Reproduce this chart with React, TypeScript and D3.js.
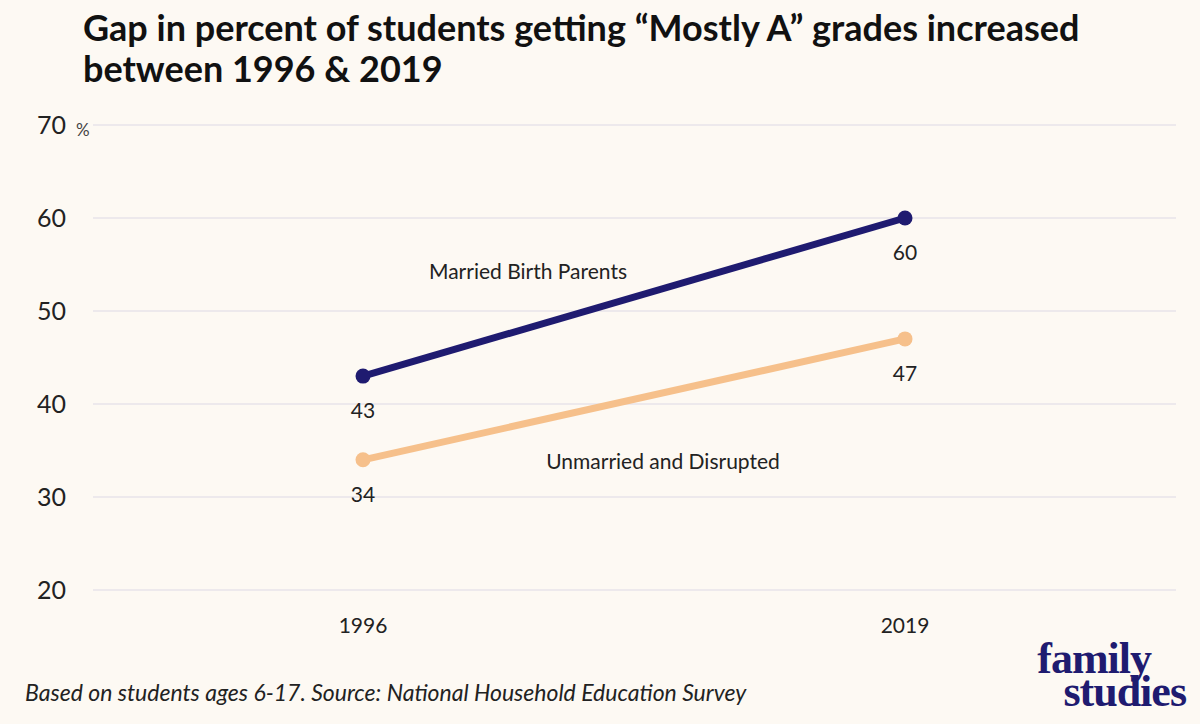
import React from "react";
import * as d3 from "d3";

const WIDTH = 1200;
const HEIGHT = 724;
const MARGINS = { LEFT: 93, RIGHT: 24, TOP: 125, BOTTOM: 134 };

const years = ["1996", "2019"];
const yTicks = [20, 30, 40, 50, 60, 70];
const married = [43, 60];
const unmarried = [34, 47];

const NAVY = "#1f1b70";
const ORANGE = "#f6c08b";
const FONT = "Lato, 'Noto Sans', sans-serif";

const App: React.FC = () => {
  const innerH = HEIGHT - MARGINS.TOP - MARGINS.BOTTOM;

  const xScale = d3
    .scalePoint<string>()
    .domain(years)
    .range([363, 905]);

  const yScale = d3
    .scaleLinear()
    .domain([20, 70])
    .range([MARGINS.TOP + innerH, MARGINS.TOP]);

  const line = d3
    .line<number>()
    .x((_, i) => xScale(years[i])!)
    .y((d) => yScale(d));

  const series = [
    { key: "married", values: married, color: NAVY },
    { key: "unmarried", values: unmarried, color: ORANGE },
  ];

  return (
    <svg width={WIDTH} height={HEIGHT} style={{ display: "block", position: "absolute", left: 0, top: 0 }}>
      <rect width={WIDTH} height={HEIGHT} fill="#fdf9f3" />

      <text fontFamily={FONT} fontWeight={700} fontSize={36} fill="#111">
        <tspan x={83} y={41}>Gap in percent of students getting “Mostly A” grades increased</tspan>
        <tspan x={83} y={82}>between 1996 &amp; 2019</tspan>
      </text>

      {yTicks.map((t) => (
        <g key={t}>
          <line
            x1={MARGINS.LEFT}
            x2={WIDTH - MARGINS.RIGHT}
            y1={yScale(t)}
            y2={yScale(t)}
            stroke="#e7e3ea"
            strokeWidth={1.5}
          />
          <text
            x={66}
            y={yScale(t)}
            dy="0.35em"
            textAnchor="end"
            fontFamily={FONT}
            fontSize={25}
            fill="#222"
          >
            {t}
          </text>
        </g>
      ))}
      <text x={76} y={yScale(70) + 11} fontFamily={FONT} fontSize={17} fill="#444">
        %
      </text>

      {years.map((y) => (
        <text
          key={y}
          x={xScale(y)}
          y={633}
          textAnchor="middle"
          fontFamily={FONT}
          fontSize={21}
          fill="#222"
        >
          {y}
        </text>
      ))}

      {series.map((s) => (
        <g key={s.key}>
          <path d={line(s.values)!} fill="none" stroke={s.color} strokeWidth={7} />
          {s.values.map((v, i) => (
            <g key={i}>
              <circle cx={xScale(years[i])} cy={yScale(v)} r={7.5} fill={s.color} />
              <text
                x={xScale(years[i])}
                y={yScale(v) + 42}
                textAnchor="middle"
                fontFamily={FONT}
                fontSize={21}
                fill="#222"
              >
                {v}
              </text>
            </g>
          ))}
        </g>
      ))}

      <text x={528} y={279} textAnchor="middle" fontFamily={FONT} fontSize={21} fill="#222">
        Married Birth Parents
      </text>
      <text x={663} y={469} textAnchor="middle" fontFamily={FONT} fontSize={21} fill="#222">
        Unmarried and Disrupted
      </text>

      <text x={25} y={701} fontFamily={FONT} fontStyle="italic" fontSize={23} fill="#222">
        Based on students ages 6-17. Source: National Household Education Survey
      </text>

      <text
        textAnchor="end"
        fontFamily="'Liberation Serif', 'DejaVu Serif', serif"
        fontWeight={700}
        fontSize={44}
        fill={NAVY}
        letterSpacing={-1}
      >
        <tspan x={1151} y={673}>family</tspan>
        <tspan x={1186} y={706}>studies</tspan>
      </text>
    </svg>
  );
};

export default App;
